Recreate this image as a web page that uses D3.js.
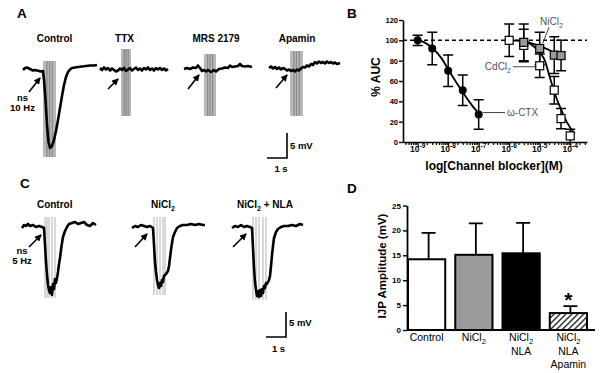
<!DOCTYPE html>
<html>
<head>
<meta charset="utf-8">
<script src="https://cdn.jsdelivr.net/npm/d3@7"></script>
<style>
  body { margin: 0; background: #fff; }
  svg { display: block; font-family: Arial, "Liberation Sans", sans-serif; }
</style>
</head>
<body>
<svg id="fig" width="602" height="373"></svg>
<script>
// ---------- recordings: [time (s) from trace start, mV from baseline] ----------
const traceAControl = [[0,0],[0.1,0.4],[0.2,0.5],[0.3,0.3],[0.4,0.1],[0.5,-0.1],[0.6,0],[0.7,-0.1],[0.8,-0.2],[0.9,-0.3],[1.0,-0.2],[1.05,-2],[1.125,-6],[1.2,-11],[1.275,-14.4],[1.35,-15.6],[1.45,-15.2],[1.55,-14],[1.65,-12.2],[1.75,-10],[1.85,-7.6],[1.95,-5.2],[2.05,-3],[2.15,-1.4],[2.25,-0.4],[2.35,0.1],[2.45,0.4],[2.6,0.5],[2.75,0.6],[2.95,0.7],[3.15,0.8],[3.35,0.9],[3.55,0.9],[3.7,1.0]];
const traceATTX = [[0,0.2],[0.1,-0.2],[0.2,0.3],[0.3,-0.1],[0.4,0.2],[0.5,-0.3],[0.6,0.1],[0.7,-0.2],[0.8,-0.5],[0.9,-0.3],[1.0,0.1],[1.1,-0.2],[1.2,0.2],[1.3,-0.4],[1.4,-0.1],[1.5,0.2],[1.6,-0.3],[1.7,0],[1.8,0.3],[1.9,-0.2],[2.0,0.1],[2.1,-0.3],[2.2,0.2],[2.3,-0.1],[2.4,0.3],[2.5,-0.2],[2.6,0.1],[2.7,-0.3],[2.8,0.2],[2.9,-0.1],[3.0,0.2],[3.1,-0.2],[3.2,0.1],[3.3,-0.3],[3.4,0]];
const traceAMRS = [[0,0],[0.15,0.2],[0.3,0],[0.45,0.3],[0.6,0.2],[0.7,0.7],[0.8,0.2],[0.9,-0.4],[1.0,-0.2],[1.1,-0.5],[1.2,-0.2],[1.35,-0.6],[1.5,-0.2],[1.6,-0.5],[1.75,0],[1.9,0.1],[2.05,0.3],[2.2,0.2],[2.3,0.7],[2.4,0.4],[2.55,0.5],[2.7,0.6],[2.8,1.0],[2.9,0.6],[3.05,0.5],[3.2,0.6],[3.4,0.4]];
const traceAApamin = [[0,0],[0.1,0.3],[0.2,-0.1],[0.3,0.2],[0.4,-0.2],[0.5,0.1],[0.6,-0.3],[0.7,0],[0.8,-0.2],[0.9,-0.5],[1.0,-0.3],[1.1,-0.6],[1.2,-0.4],[1.3,-0.7],[1.4,-0.3],[1.5,-0.5],[1.6,-0.1],[1.7,0.2],[1.8,0.1],[1.9,0.5],[2.0,0.3],[2.1,0.8],[2.2,0.6],[2.3,1.2],[2.4,0.9],[2.5,1.3],[2.6,1.0],[2.7,1.2],[2.8,0.9],[2.9,1.3],[3.0,1.0],[3.1,1.2],[3.2,0.9],[3.3,1.1],[3.4,0.8],[3.55,1.0]];

const traceCControl = [[0,0],[0.1,0.6],[0.2,0.4],[0.3,0.8],[0.4,0.4],[0.55,0.6],[0.7,0.2],[0.85,0.4],[1.0,0.2],[1.1,0],[1.15,-3.4],[1.2,-6.8],[1.25,-9.4],[1.3,-11.4],[1.35,-12.4],[1.4,-13],[1.45,-11.8],[1.5,-13.4],[1.55,-11.2],[1.6,-12.2],[1.65,-10.2],[1.7,-11],[1.75,-10],[1.8,-8.8],[1.85,-7.2],[1.9,-6],[1.95,-4.4],[2.0,-3],[2.05,-1.8],[2.15,-0.6],[2.25,0.2],[2.35,0.8],[2.5,1.0],[2.65,1.2],[2.8,0.8],[2.95,1.0],[3.1,1.2],[3.25,0.6],[3.4,0.4],[3.55,1.0],[3.7,0.6]];
const traceCNi = [[0,0],[0.15,0.4],[0.3,0.2],[0.45,0.6],[0.6,0.4],[0.75,0.2],[0.9,0.4],[1.05,0],[1.1,-3.4],[1.15,-6.8],[1.2,-8.8],[1.25,-10.4],[1.3,-11.4],[1.35,-12],[1.4,-11],[1.45,-11.6],[1.5,-10.4],[1.55,-10.8],[1.6,-9.6],[1.7,-9.2],[1.8,-8.6],[1.85,-7.6],[1.9,-6],[1.95,-4.4],[2.0,-3],[2.05,-1.8],[2.15,-0.8],[2.25,0],[2.4,0.4],[2.55,0.6],[2.75,0.6],[2.95,0.8],[3.15,0.6],[3.35,0.8],[3.55,0.6],[3.65,0.6]];
const traceCNiNLA = [[0,0],[0.15,0.4],[0.3,0.2],[0.45,0.6],[0.6,0.2],[0.75,0.4],[0.9,0.2],[1.0,0],[1.05,-4],[1.1,-8],[1.15,-10.8],[1.2,-12.4],[1.25,-13.6],[1.3,-12.6],[1.35,-13.8],[1.4,-12.4],[1.45,-13.6],[1.5,-12.2],[1.55,-13],[1.6,-11.6],[1.65,-12],[1.7,-11],[1.75,-11.2],[1.8,-10.8],[1.85,-10.4],[1.9,-9.6],[1.95,-7.6],[2.0,-5.4],[2.05,-3.6],[2.1,-2],[2.2,-0.8],[2.3,-0.2],[2.45,0.2],[2.6,0.4],[2.8,0.4],[3.0,0.6],[3.2,0.4],[3.4,0.8],[3.55,0.6]];

// stimulation artefacts: [t start, t end, mV top, mV bottom]
const stimAControl = [1.0, 1.65, 1.8, -17.4];
const stimATTX = [1.05, 1.55, 4, -9.4];
const stimAMRS = [1.0, 1.6, 3, -9.4];
const stimAApamin = [1.05, 1.7, 3.4, -9.6];
// panel C pulses: times (s)
const pulsesCControl = [1.15, 1.25, 1.35, 1.5, 1.65];
const pulsesCNi = [1.1, 1.25, 1.4, 1.55, 1.65];
const pulsesCNiNLA = [1.05, 1.2, 1.35, 1.55, 1.7];

// ---------- panel B: concentration-response ----------
const ctxConc = [1e-9, 3e-9, 1e-8, 3e-8, 1e-7];
const ctxAUC = [100, 92, 70, 51, 27];
const ctxSEM = [5, 16, 15.5, 15, 14.5];
const cdConc = [1e-6, 3e-6, 1e-5, 3e-5, 5e-5, 1e-4];
const cdAUC = [100, 95, 75, 51, 23, 6];
const cdSEM = [16, 16, 11.5, 13.5, 10, 6.5];
const niConc = [3e-6, 1e-5, 3e-5, 5e-5];
const niAUC = [98, 92, 85.5, 85];
const niSEM = [18, 16, 18, 15];
// fitted curves: [log10 M, %AUC]
const ctxFit = [[-8.95,100],[-8.75,97.5],[-8.54,93],[-8.21,82],[-8.0,71.5],[-7.72,58],[-7.5,48],[-7.23,36.5],[-6.97,27]];
const cdFit = [[-6,100],[-5.6,99.5],[-5.4,98],[-5.2,94],[-5.0,88],[-4.83,80],[-4.7,67],[-4.56,53],[-4.45,43],[-4.34,35],[-4.12,20],[-3.85,8]];
const niFit = [[-5.37,98],[-5.1,95.5],[-4.89,93],[-4.6,89],[-4.28,84]];
const bYTicks = [0, 20, 40, 60, 80, 100, 120];

// ---------- panel D: IJP amplitude ----------
const ijpGroups = ["Control", "NiCl2", "NiCl2|NLA", "NiCl2|NLA|Apamin"];
const ijpMean = [14.2, 15.1, 15.4, 3.4];
const ijpSEM = [5.3, 6.3, 6.1, 1.4];
const dYTicks = [0, 5, 10, 15, 20, 25];

const svg = d3.select("#fig");

const defs = svg.append("defs");
defs.append("marker")
    .attr("id", "arrowhead")
    .attr("markerUnits", "userSpaceOnUse")
    .attr("markerWidth", 7).attr("markerHeight", 7)
    .attr("refX", 6).attr("refY", 3.5)
    .attr("orient", "auto")
  .append("path")
    .attr("d", "M0,0 L7,3.5 L0,7 z")
    .attr("fill", "#000");

const hatch = defs.append("pattern")
    .attr("id", "hatch")
    .attr("patternUnits", "userSpaceOnUse")
    .attr("width", 4.2).attr("height", 4.2)
    .attr("patternTransform", "rotate(45)");
hatch.append("rect").attr("width", 4.2).attr("height", 4.2).attr("fill", "#fff");
hatch.append("line").attr("x1", 0).attr("y1", 0).attr("x2", 0).attr("y2", 4.2)
    .attr("stroke", "#000").attr("stroke-width", 2.4);

// text with "Cl2" rendered as a subscript
function richText(sel, str, subSize) {
    const parts = str.split("Cl2");
    let shift = 0;
    parts.forEach((p, i) => {
        if (p) {
            const ts = sel.append("tspan").text(p);
            if (shift) { ts.attr("dy", -shift); shift = 0; }
        }
        if (i < parts.length - 1) {
            const c = sel.append("tspan").text("Cl");
            if (shift) { c.attr("dy", -shift); shift = 0; }
            sel.append("tspan").attr("dy", 3).style("font-size", subSize + "px").text("2");
            shift = 3;
        }
    });
}

// ---------- traces ----------
const tScale = d3.scaleLinear().domain([0, 1]).range([0, 20]);   // 1 s = 20 px
const vScale = d3.scaleLinear().domain([0, 1]).range([0, -5]);   // 1 mV = 5 px
const traceLine = d3.line().x(d => tScale(d[0])).y(d => vScale(d[1]));

const tracesA = [
    { title: "Control", tx: 54.5, origin: [23, 70], data: traceAControl, box: stimAControl, arrow: [0.3, -4.4, 0.85, -1.6] },
    { title: "TTX", tx: 124.5, origin: [100, 69], data: traceATTX, box: stimATTX, arrow: [0.4, -4, 0.9, -2] },
    { title: "MRS 2179", tx: 216, origin: [184, 69], data: traceAMRS, box: stimAMRS, arrow: [0.2, -4, 0.75, -1.2] },
    { title: "Apamin", tx: 297, origin: [269, 68], data: traceAApamin, box: stimAApamin, arrow: [0.35, -4, 0.9, -1.4] }
];
const tracesC = [
    { title: "Control", tx: 54.7, origin: [22, 228], data: traceCControl, pulses: pulsesCControl, pv: [2.2, -14], arrow: [0.35, -3.8, 0.95, -1.4] },
    { title: "NiCl2", tx: 163, origin: [132, 228], data: traceCNi, pulses: pulsesCNi, pv: [2.2, -13.4], arrow: [0.15, -3.8, 0.75, -1.2] },
    { title: "NiCl2 + NLA", tx: 265, origin: [232, 228], data: traceCNiNLA, pulses: pulsesCNiNLA, pv: [2.2, -14.4], arrow: [0.05, -3.8, 0.7, -1.2] }
];

function drawTrace(cfg) {
    const g = svg.append("g").attr("transform", `translate(${cfg.origin[0]},${cfg.origin[1]})`);
    if (cfg.box) {
        const [t0, t1, vt, vb] = cfg.box;
        g.append("rect")
            .attr("x", tScale(t0)).attr("y", vScale(vt))
            .attr("width", tScale(t1) - tScale(t0))
            .attr("height", vScale(vb) - vScale(vt))
            .attr("fill", "#b9b9b9");
        [0.3, 0.5, 0.72].forEach(f => {
            const x = tScale(t0) + f * (tScale(t1) - tScale(t0));
            g.append("line").attr("x1", x).attr("x2", x)
                .attr("y1", vScale(vt)).attr("y2", vScale(vb))
                .attr("stroke", "#8c8c8c").attr("stroke-width", 1.3);
        });
    }
    if (cfg.pulses) {
        g.selectAll(".pulse").data(cfg.pulses).enter().append("line")
            .attr("x1", d => tScale(d)).attr("x2", d => tScale(d))
            .attr("y1", vScale(cfg.pv[0])).attr("y2", vScale(cfg.pv[1]))
            .attr("stroke", "#a8a8a8").attr("stroke-width", 0.9);
    }
    g.append("path").datum(cfg.data)
        .attr("d", traceLine)
        .attr("fill", "none")
        .attr("stroke", "#000")
        .attr("stroke-width", 2.6)
        .attr("stroke-linejoin", "round");
    const a = cfg.arrow;
    g.append("line")
        .attr("x1", tScale(a[0])).attr("y1", vScale(a[1]))
        .attr("x2", tScale(a[2])).attr("y2", vScale(a[3]))
        .attr("stroke", "#000").attr("stroke-width", 1.6)
        .attr("marker-end", "url(#arrowhead)");
}

function traceTitle(cfg, y) {
    const t = svg.append("text")
        .attr("x", cfg.tx).attr("y", y)
        .attr("text-anchor", "middle")
        .style("font-size", "10px").style("font-weight", "bold");
    richText(t, cfg.title, 7);
}

tracesA.forEach(c => { drawTrace(c); traceTitle(c, 41.5); });
tracesC.forEach(c => { drawTrace(c); traceTitle(c, 207.5); });

function smallLabel(x, y, str, anchor) {
    svg.append("text").attr("x", x).attr("y", y)
        .attr("text-anchor", anchor || "middle")
        .style("font-size", "9.5px").style("font-weight", "bold")
        .text(str);
}
smallLabel(22.5, 100.5, "ns");
smallLabel(22.5, 111, "10 Hz");
smallLabel(22, 253.5, "ns");
smallLabel(22, 264, "5 Hz");

function scaleBar(cx, cy, lx, ly, sx, sy) {
    const path = d3.path();
    path.moveTo(cx, cy + vScale(5));
    path.lineTo(cx, cy);
    path.lineTo(cx - tScale(1), cy);
    svg.append("path").attr("d", path.toString())
        .attr("fill", "none").attr("stroke", "#000").attr("stroke-width", 1.6);
    smallLabel(lx, ly, "5 mV", "start");
    smallLabel(sx, sy, "1 s");
}
scaleBar(287, 158, 290, 148.5, 281, 171.5);
scaleBar(286, 337, 289, 325.5, 278.5, 351.5);

// ---------- panel letters ----------
[["A", 17, 18], ["B", 347, 17.5], ["C", 20, 188], ["D", 347, 193]].forEach(([l, x, y]) => {
    svg.append("text").attr("x", x).attr("y", y)
        .style("font-size", "13.5px").style("font-weight", "bold").text(l);
});

// ---------- panel B ----------
const xB = d3.scaleLog().domain([Math.pow(10, -9.48), Math.pow(10, -3.45)]).range([403, 587]);
const yB = d3.scaleLinear().domain([0, 120]).range([142, 20]);
const gB = svg.append("g");

const yAxisB = gB.append("g").attr("transform", "translate(403,0)")
    .call(d3.axisLeft(yB).tickValues(bYTicks).tickSize(4).tickSizeOuter(0));
yAxisB.select(".domain").attr("stroke-width", 1.6);
yAxisB.selectAll(".tick line").attr("stroke-width", 1.4);
yAxisB.selectAll(".tick text").attr("x", -5).style("font-size", "7.5px").style("font-weight", "bold")
    .style("font-family", "Arial, 'Liberation Sans', sans-serif");

const isMajor = v => Math.abs(Math.log10(v) - Math.round(Math.log10(v))) < 1e-6;
const xAxisB = gB.append("g").attr("transform", "translate(0,142)")
    .call(d3.axisBottom(xB).tickValues(xB.ticks()).tickSize(3).tickSizeOuter(0));
xAxisB.selectAll(".tick text").remove();
xAxisB.select(".domain").attr("stroke-width", 1.6);
xAxisB.selectAll(".tick line").attr("stroke-width", 1.2)
    .attr("y2", d => isMajor(d) ? 5 : 3);
xB.ticks().filter(isMajor).forEach(v => {
    const t = gB.append("text").attr("x", xB(v)).attr("y", 151.5)
        .attr("text-anchor", "middle")
        .style("font-size", "8.5px").style("font-weight", "bold");
    t.append("tspan").text("10");
    t.append("tspan").attr("dy", -4).style("font-size", "6.5px").text(Math.round(Math.log10(v)));
});

gB.append("text").attr("x", 494).attr("y", 169.5).attr("text-anchor", "middle")
    .style("font-size", "12px").style("font-weight", "bold").text("log[Channel blocker](M)");
gB.append("text").attr("transform", "translate(380,77) rotate(-90)").attr("text-anchor", "middle")
    .style("font-size", "12px").style("font-weight", "bold").text("% AUC");

gB.append("line")
    .attr("x1", 403).attr("x2", 587).attr("y1", yB(100)).attr("y2", yB(100))
    .attr("stroke", "#000").attr("stroke-width", 1.5).attr("stroke-dasharray", "4,3");

const fitLine = d3.line().curve(d3.curveMonotoneX)
    .x(d => xB(Math.pow(10, d[0]))).y(d => yB(d[1]));
[ctxFit, cdFit, niFit].forEach(f => {
    gB.append("path").datum(f).attr("d", fitLine)
        .attr("fill", "none").attr("stroke", "#000").attr("stroke-width", 1.8);
});

function errorBars(conc, mean, sem) {
    conc.forEach((c, i) => {
        const x = xB(c), top = yB(Math.min(mean[i] + sem[i], 120)), bot = yB(Math.max(mean[i] - sem[i], 0));
        const p = d3.path();
        p.moveTo(x, top); p.lineTo(x, bot);
        p.moveTo(x - 5, top); p.lineTo(x + 5, top);
        if (mean[i] - sem[i] > 0) { p.moveTo(x - 5, bot); p.lineTo(x + 5, bot); }
        gB.append("path").attr("d", p.toString())
            .attr("fill", "none").attr("stroke", "#000").attr("stroke-width", 1.5);
    });
}
errorBars(cdConc, cdAUC, cdSEM);
errorBars(niConc, niAUC, niSEM);
errorBars(ctxConc, ctxAUC, ctxSEM);

cdConc.forEach((c, i) => {
    gB.append("rect").attr("x", xB(c) - 4).attr("y", yB(cdAUC[i]) - 4)
        .attr("width", 8).attr("height", 8)
        .attr("fill", "#fff").attr("stroke", "#000").attr("stroke-width", 1.2);
});
niConc.forEach((c, i) => {
    gB.append("rect").attr("x", xB(c) - 4).attr("y", yB(niAUC[i]) - 4)
        .attr("width", 8).attr("height", 8)
        .attr("fill", "#9a9a9a").attr("stroke", "#000").attr("stroke-width", 1.2);
});
ctxConc.forEach((c, i) => {
    gB.append("circle").attr("cx", xB(c)).attr("cy", yB(ctxAUC[i])).attr("r", 4)
        .attr("fill", "#000");
});

// curve labels
const ctxEnd = [xB(ctxConc[4]), yB(ctxAUC[4]) - 2];
gB.append("line").attr("x1", ctxEnd[0] + 4).attr("x2", 505).attr("y1", ctxEnd[1]).attr("y2", ctxEnd[1])
    .attr("stroke", "#444").attr("stroke-width", 1);
gB.append("text").attr("x", 507).attr("y", ctxEnd[1] + 3.5)
    .style("font-size", "10px").attr("fill", "#555").text("\u03c9-CTX");

const cdPt = [xB(cdConc[2]), yB(cdAUC[2]) + 1];
gB.append("line").attr("x1", 513).attr("x2", cdPt[0] - 4).attr("y1", cdPt[1]).attr("y2", cdPt[1])
    .attr("stroke", "#444").attr("stroke-width", 1);
const cdLab = gB.append("text").attr("x", 511).attr("y", cdPt[1] + 3.5).attr("text-anchor", "end")
    .style("font-size", "10px").attr("fill", "#555");
richText(cdLab, "CdCl2", 7);

const niPt = [xB(niConc[1]), yB(niAUC[1])];
gB.append("line").attr("x1", 549).attr("y1", 27).attr("x2", niPt[0] + 3).attr("y2", niPt[1] - 5)
    .attr("stroke", "#444").attr("stroke-width", 1);
const niLab = gB.append("text").attr("x", 540).attr("y", 25)
    .style("font-size", "10px").attr("fill", "#555");
richText(niLab, "NiCl2", 7);

// ---------- panel D ----------
const xD = d3.scaleBand().domain(ijpGroups).range([407, 588]).paddingInner(0.17).paddingOuter(0);
const yD = d3.scaleLinear().domain([0, 25]).range([330, 205.5]);
const gD = svg.append("g");
const barFill = ["#fff", "#9a9a9a", "#000", "url(#hatch)"];

ijpGroups.forEach((grp, i) => {
    const x = xD(grp), w = xD.bandwidth(), cx = x + w / 2 + 2;
    const p = d3.path();
    p.moveTo(cx, yD(ijpMean[i])); p.lineTo(cx, yD(ijpMean[i] + ijpSEM[i]));
    p.moveTo(cx - 7, yD(ijpMean[i] + ijpSEM[i])); p.lineTo(cx + 7, yD(ijpMean[i] + ijpSEM[i]));
    gD.append("path").attr("d", p.toString()).attr("fill", "none")
        .attr("stroke", "#000").attr("stroke-width", 1.8);
    gD.append("rect")
        .attr("x", x + 1).attr("y", yD(ijpMean[i]))
        .attr("width", w - 2).attr("height", yD(0) - yD(ijpMean[i]))
        .attr("fill", barFill[i]).attr("stroke", "#000").attr("stroke-width", 2);
    const lines = grp.split("|");
    lines.forEach((ln, k) => {
        const t = gD.append("text").attr("x", x + w / 2).attr("y", 341 + k * 13.5)
            .attr("text-anchor", "middle").style("font-size", "10.5px");
        richText(t, ln, 7.5);
    });
});

gD.append("line").attr("x1", 407).attr("x2", 595).attr("y1", yD(0)).attr("y2", yD(0))
    .attr("stroke", "#000").attr("stroke-width", 1.8);
const yAxisD = gD.append("g").attr("transform", "translate(407,0)")
    .call(d3.axisLeft(yD).tickValues(dYTicks).tickSize(4).tickSizeOuter(0));
yAxisD.select(".domain").attr("stroke-width", 1.8);
yAxisD.selectAll(".tick line").attr("stroke-width", 1.4);
yAxisD.selectAll(".tick text").attr("x", -6).style("font-size", "8px").style("font-weight", "bold")
    .style("font-family", "Arial, 'Liberation Sans', sans-serif");

gD.append("text").attr("transform", "translate(386,266) rotate(-90)").attr("text-anchor", "middle")
    .style("font-size", "11.5px").style("font-weight", "bold").text("IJP Amplitude (mV)");

gD.append("text")
    .attr("x", xD(ijpGroups[3]) + xD.bandwidth() / 2)
    .attr("y", yD(ijpMean[3] + ijpSEM[3]) + 1)
    .attr("text-anchor", "middle")
    .style("font-size", "21px").style("font-weight", "bold").text("*");
</script>
</body>
</html>
